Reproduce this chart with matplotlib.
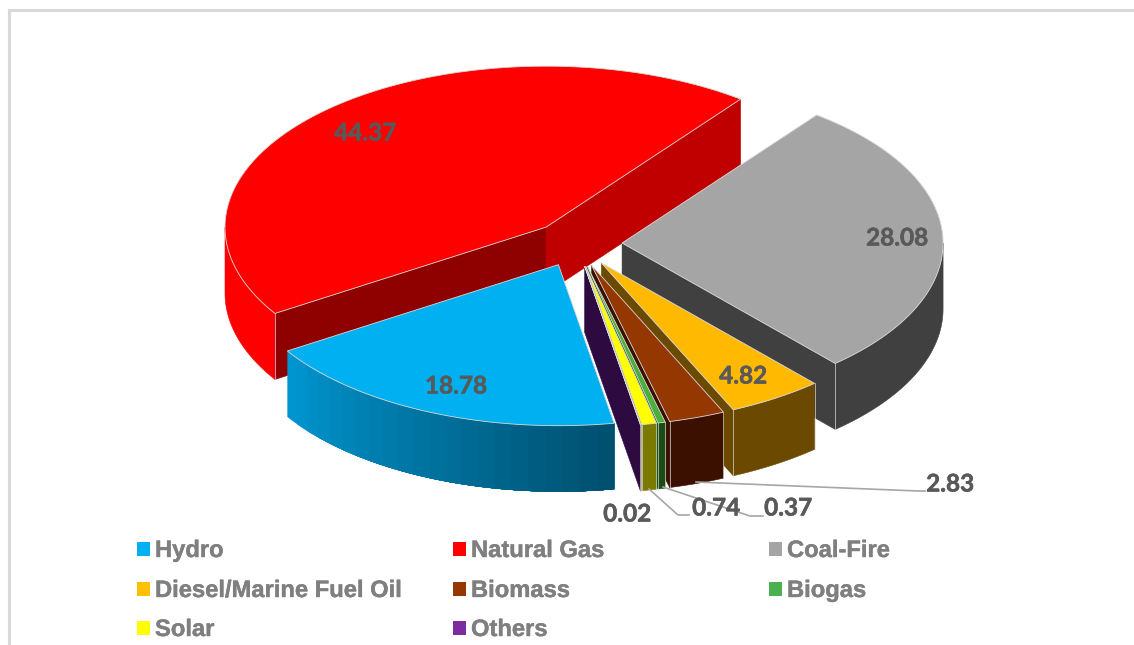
import numpy as np
import matplotlib
matplotlib.use("Agg")
import matplotlib.pyplot as plt
import matplotlib.patheffects as pe
from matplotlib.patches import Polygon, Rectangle

categories = ["Hydro", "Natural Gas", "Coal-Fire", "Diesel/Marine Fuel Oil", "Biomass", "Biogas", "Solar", "Others"]
values = [18.78, 44.37, 28.08, 4.82, 2.83, 0.37, 0.74, 0.02]
value_labels = ["18.78", "44.37", "28.08", "4.82", "2.83", "0.37", "0.74", "0.02"]

top_colors = ["#00b0f0", "#ff0000", "#a5a5a5", "#ffb900", "#953700", "#4caf3c", "#ffff00", "#7030a0"]
legend_colors = ["#00b0f0", "#ff0000", "#a5a5a5", "#ffc000", "#953700", "#4caf50", "#ffff00", "#7d2ca0"]
wall_colors = ["#0095cf", "#ff0000", "#404040", "#6b4a00", "#3c1000", "#1a4d14", "#7a7a00", "#2d0a40"]
start_face = ["#0095cf", "#8f0000", "#404040", "#6b4a00", "#3c1000", "#1a4d14", "#7a7a00", "#2d0a40"]
end_face = ["#0095cf", "#c00000", "#404040", "#6b4a00", "#3c1000", "#1a4d14", "#7a7a00", "#2d0a40"]
blue_end = "#00506f"

# pie geometry in pixels, first slice at 170 deg, clockwise from the top
cx, cy = 576.7, 243.9
rx, ry = 321.0, 161.0
explode = 45.4
depth = 66.0
first_angle = 170.0
edge = "#d9d9d9"

# slices drawn back to front
draw_order = [1, 2, 3, 4, 5, 6, 7, 0]

label_pos = [(456, 386), (365, 133), (897, 238), (743, 376), (950, 484), (788, 508), (716, 508), (627, 514)]
leaders = {4: [(696, 482), (918, 491), (925, 491)],
           5: [(663, 487), (750, 516), (763, 516)],
           6: [(649, 489), (678, 515), (689, 515)]}

legend_x = [137, 453, 769]
legend_y = [549, 589, 628]


def rim(ax0, ay0, th):
    th = np.radians(th)
    return ax0 + rx * np.sin(th), ay0 - ry * np.cos(th)


def lerp_color(c1, c2, t):
    a = np.array(matplotlib.colors.to_rgb(c1))
    b = np.array(matplotlib.colors.to_rgb(c2))
    return tuple(a + (b - a) * t)


fig = plt.figure(figsize=(11.34, 6.45), dpi=100)
ax = fig.add_axes([0, 0, 1, 1])
ax.set_xlim(0, 1134)
ax.set_ylim(645, 0)
ax.axis("off")

# chart frame
ax.plot([8.5, 8.5, 1134], [645, 10, 10], color="#d9d9d9", lw=2.2, solid_joinstyle="miter")

total = sum(values)
edges = first_angle + np.cumsum([0] + values) / total * 360.0

for i in draw_order:
    th0, th1 = edges[i], edges[i + 1]
    mid = np.radians((th0 + th1) / 2)
    ax0 = cx + explode * np.sin(mid)
    ay0 = cy - explode * 0.5 * np.cos(mid)

    # cut faces, only the ones turned to the viewer
    if np.sin(np.radians(th0)) < 0:
        x, y = rim(ax0, ay0, th0)
        ax.add_patch(Polygon([(ax0, ay0), (x, y), (x, y + depth), (ax0, ay0 + depth)],
                             facecolor=start_face[i], edgecolor=start_face[i], lw=0.4, zorder=2))
    if np.sin(np.radians(th1)) > 0:
        x, y = rim(ax0, ay0, th1)
        ax.add_patch(Polygon([(ax0, ay0), (x, y), (x, y + depth), (ax0, ay0 + depth)],
                             facecolor=end_face[i], edgecolor=end_face[i], lw=0.4, zorder=2))

    # outer wall, front half of the rim only (angles run past 360)
    for off in (0, 360):
        a0 = max(th0, 90 + off)
        a1 = min(th1, 270 + off)
        if a1 <= a0:
            continue
        if i == 0:
            # widest band first, so no seams between the shades
            nband = 22
            for b in range(nband - 1, -1, -1):
                tt = np.linspace(a0, a0 + (a1 - a0) * (b + 1) / nband, 60)
                xs, ys = rim(ax0, ay0, tt)
                pts = list(zip(xs, ys)) + list(zip(xs[::-1], ys[::-1] + depth))
                c = lerp_color(blue_end, wall_colors[0], b / (nband - 1))
                ax.add_patch(Polygon(pts, facecolor=c, edgecolor="none", zorder=2))
        else:
            tt = np.linspace(a0, a1, 80)
            xs, ys = rim(ax0, ay0, tt)
            pts = list(zip(xs, ys)) + list(zip(xs[::-1], ys[::-1] + depth))
            ax.add_patch(Polygon(pts, facecolor=wall_colors[i], edgecolor=wall_colors[i], lw=0.4, zorder=2))
            # corner lines on the wall
            for a in (th0, th1):
                if a0 <= a <= a1 and 90 < a % 360 < 270:
                    x, y = rim(ax0, ay0, a)
                    ax.plot([x, x], [y, y + depth], color=edge, lw=0.7, alpha=0.7, zorder=2)

    # top face
    tt = np.linspace(th0, th1, max(int(th1 - th0) * 2, 2))
    xs, ys = rim(ax0, ay0, tt)
    pts = [(ax0, ay0)] + list(zip(xs, ys))
    ax.add_patch(Polygon(pts, closed=True, facecolor=top_colors[i], edgecolor=edge, lw=0.6, zorder=2))

# value labels
thick = [pe.withStroke(linewidth=0.4, foreground="#595959")]
for i, lab in enumerate(value_labels):
    ax.text(label_pos[i][0], label_pos[i][1], lab, family="Lato", weight="bold", fontsize=17.5,
            color="#595959", ha="center", va="center", zorder=5, path_effects=thick)

for k in leaders:
    xs = [p[0] for p in leaders[k]]
    ys = [p[1] for p in leaders[k]]
    ax.plot(xs, ys, color="#a6a6a6", lw=1.2, zorder=4)

# legend, three columns
thin = [pe.withStroke(linewidth=0.3, foreground="#7f7f7f")]
for i, name in enumerate(categories):
    col = i % 3
    row = i // 3
    ax.add_patch(Rectangle((legend_x[col], legend_y[row] - 7), 13, 14, facecolor=legend_colors[i], edgecolor="none"))
    ax.text(legend_x[col] + 18, legend_y[row] + 1.5, name, family="Liberation Sans", weight="bold", fontsize=17.1,
            color="#7f7f7f", ha="left", va="center", path_effects=thin)

fig.savefig("out.png", dpi=100)
